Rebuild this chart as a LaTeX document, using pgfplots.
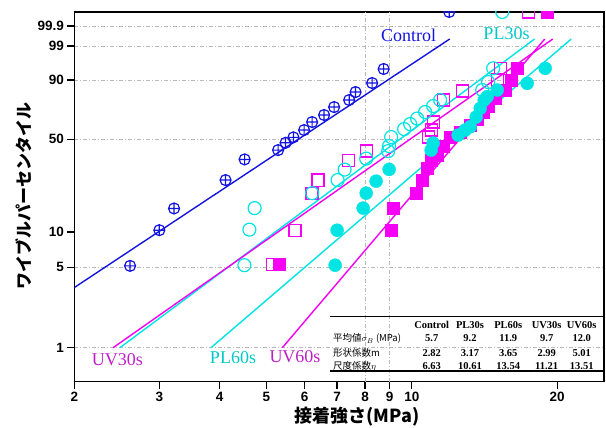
\documentclass[border=0pt]{standalone}
\usepackage{fontspec}
\setmainfont{Liberation Serif}
\newfontfamily\arialf{Liberation Sans}
\newfontfamily\jp{Noto Sans CJK JP}
\usepackage{pgfplots}
\pgfplotsset{compat=1.18}
\definecolor{cblue}{RGB}{20,20,225}
\definecolor{ccyan}{RGB}{0,228,228}
\definecolor{cmag}{RGB}{245,0,245}
\definecolor{labmag}{RGB}{190,30,200}
\definecolor{labcyan}{RGB}{0,200,200}
\begin{document}
\begin{tikzpicture}
\useasboundingbox (0,0) rectangle (606pt,428pt);
\begin{axis}[
  at={(74.3pt,46.3pt)}, anchor=south west,
  scale only axis, width=529.7pt, height=369.7pt,
  xmode=log, xmin=2, xmax=25, ymin=-5.291, ymax=2.217,
  xtick={2,3,4,5,6,7,8,9,10,20}, xticklabels={2,3,4,5,6,7,8,9,10,20},
  ytick={1.9327,1.5272,0.8340,-0.3665,-2.9702,-4.6002},
  yticklabels={99.9,99,90,50,5,1},
  extra y ticks={-2.2504}, extra y tick labels={10}, extra y tick style={grid=none},
  extra x ticks={8,9}, extra x tick labels={,}, extra x tick style={grid=major, major tick length=0pt},
  ymajorgrids=true,
  major grid style={gray!55, line width=0.5pt, dash pattern=on 4pt off 2pt on 1pt off 2pt},
  tick pos=left, tick align=outside, major tick length=7pt,
  axis line style={line width=1.3pt},
  tick style={black, line width=1.3pt},
  tick label style={font=\arialf\bfseries\fontsize{13.5}{14}\selectfont},
  clip marker paths=true,
]
% Weibull fit lines
\addplot[cblue, line width=1.4pt] coordinates {(2,-3.3796) (11.978,1.668)};
\addplot[ccyan, line width=1.4pt] coordinates {(2.4861,-4.60) (17.956,1.668)};
\addplot[ccyan, line width=1.4pt] coordinates {(3.8396,-4.60) (21.384,1.668)};
\addplot[cmag, line width=1.4pt] coordinates {(2.4069,-4.60) (19.583,1.668)};
\addplot[cmag, line width=1.4pt] coordinates {(5.3939,-4.60) (18.848,1.668)};
% Control
\addplot[only marks, mark=oplus, mark size=5.5pt, mark options={draw=cblue, line width=1.2pt, fill=none}] coordinates {
(2.609,-2.939) (3.000,-2.214) (3.218,-1.773) (4.114,-1.197) (4.505,-0.777)
(5.285,-0.588) (5.477,-0.439) (5.685,-0.329) (5.983,-0.181) (6.216,-0.018)
(6.581,0.125) (6.903,0.286) (7.417,0.429) (7.648,0.591) (8.275,0.774) (8.742,1.059)
(11.95,2.217)};
% UV60s filled squares
\addplot[only marks, mark=square*, mark size=6pt, mark options={draw=cmag, fill=cmag}] coordinates {
(5.310,-2.911) (9.060,-2.214) (9.147,-1.773) (10.207,-1.455) (10.503,-1.207)
(10.757,-0.960) (10.964,-0.791) (11.283,-0.689) (11.611,-0.506) (12.005,-0.317)
(12.592,-0.222) (13.207,-0.079) (13.656,0.043) (14.056,0.185) (14.394,0.307)
(14.884,0.469) (15.602,0.632) (16.055,0.835) (16.521,1.073) (19.069,2.217)};
% UV30s open squares
\addplot[only marks, mark=square, mark size=6pt, mark options={draw=cmag, line width=1.2pt, fill=none}] coordinates {
(5.136,-2.911) (5.731,-2.214) (6.215,-1.462) (6.396,-1.197) (7.381,-0.791)
(8.044,-0.608) (10.808,-0.323) (10.964,-0.181) (11.069,-0.018) (11.611,0.429)
(12.713,0.612) (15.026,0.835) (15.242,1.073) (17.415,2.217)};
% PL60s filled circles
\addplot[only marks, mark=*, mark size=6.5pt, mark options={draw=ccyan, fill=ccyan}] coordinates {
(6.937,-2.925) (7.003,-2.214) (7.930,-1.766) (8.044,-1.462) (8.434,-1.218)
(8.974,-0.980) (10.964,-0.588) (11.069,-0.445) (12.472,-0.283) (12.896,-0.181)
(13.207,-0.114) (13.590,0.083) (13.856,0.260) (14.123,0.429) (14.327,0.496)
(15.026,0.632) (17.332,0.768) (18.888,1.073)};
% PL30s open circles
\addplot[only marks, mark=o, mark size=6.5pt, mark options={draw=ccyan, line width=1.2pt, fill=none}] coordinates {
(4.500,-2.925) (4.609,-2.203) (4.725,-1.766) (6.215,-1.462) (7.020,-1.197)
(7.258,-0.984) (8.044,-0.760) (8.932,-0.608) (8.974,-0.506) (9.060,-0.323)
(9.639,-0.161) (9.919,-0.059) (10.256,0.053) (10.655,0.185) (11.069,0.307)
(11.445,0.429) (13.99,0.632) (14.39,0.794) (14.74,1.073) (15.39,2.217)};
\end{axis}
% axis titles
\node[rotate=90, font=\jp\bfseries\fontsize{17}{19}\selectfont] at (23.5pt,232pt) {ワイブルパーセンタイル};
\node[font=\jp\bfseries\fontsize{18}{20}\selectfont] at (357pt,11pt) {接着強さ(MPa)};
% series labels
\node[text=cblue, font=\fontsize{18}{20}\selectfont] at (408.5pt,393pt) {Control};
\node[text=labcyan, font=\fontsize{18}{20}\selectfont] at (506.5pt,394pt) {PL30s};
\node[text=labmag, font=\fontsize{18}{20}\selectfont] at (117.3pt,68.5pt) {UV30s};
\node[text=labcyan, font=\fontsize{18}{20}\selectfont] at (233pt,70pt) {PL60s};
\node[text=labmag, font=\fontsize{18}{20}\selectfont] at (295pt,71pt) {UV60s};
% table
\draw[line width=0.9pt] (330pt,111.3pt) -- (604pt,111.3pt);
\draw[line width=1.8pt] (330pt,57pt) -- (604pt,57pt);
\begin{scope}[every node/.style={font=\bfseries\fontsize{10.5}{12}\selectfont, inner sep=0pt}]
\node at (431.7pt,103pt) {Control};
\node at (470pt,103pt) {PL30s};
\node at (508.3pt,103pt) {PL60s};
\node at (546.7pt,103pt) {UV30s};
\node at (581.7pt,103pt) {UV60s};
\node at (431.7pt,89.7pt) {5.7};
\node at (470pt,89.7pt) {9.2};
\node at (508.3pt,89.7pt) {11.9};
\node at (546.7pt,89.7pt) {9.7};
\node at (581.7pt,89.7pt) {12.0};
\node at (431.7pt,75.3pt) {2.82};
\node at (470pt,75.3pt) {3.17};
\node at (508.3pt,75.3pt) {3.65};
\node at (546.7pt,75.3pt) {2.99};
\node at (581.7pt,75.3pt) {5.01};
\node at (431.7pt,62pt) {6.63};
\node at (470pt,62pt) {10.61};
\node at (508.3pt,62pt) {13.54};
\node at (546.7pt,62pt) {11.21};
\node at (581.7pt,62pt) {13.51};
\end{scope}
\begin{scope}[every node/.style={anchor=west, font=\jp\fontsize{9.5}{11}\selectfont, inner sep=0pt}]
\node at (333pt,89.7pt) {平均値$\sigma_B$ (MPa)};
\node at (333pt,75.3pt) {形状係数m};
\node at (333pt,62pt) {尺度係数$\eta$};
\end{scope}
\end{tikzpicture}
\end{document}
